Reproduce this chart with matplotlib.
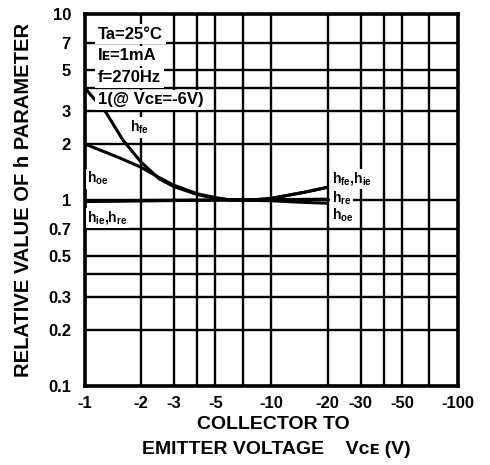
# -*- coding: utf-8 -*-
"""
Relative value of h parameters vs collector to emitter voltage.
Log-log chart, normalised to 1 at VCE = -6V.
"""
import matplotlib

matplotlib.use("Agg")
import matplotlib.pyplot as plt

# grid / tick values (magnitude of VCE, the axis is labelled negative)
x_grid = [1, 2, 3, 4, 5, 7, 10, 20, 30, 40, 50, 70, 100]
x_labels = ["-1", "-2", "-3", "", "-5", "", "-10", "-20", "-30", "", "-50", "", "-100"]
y_grid = [0.1, 0.2, 0.3, 0.4, 0.5, 0.7, 1, 2, 3, 4, 5, 7, 10]
y_labels = ["0.1", "0.2", "0.3", "", "0.5", "0.7", "1", "2", "3", "", "5", "7", "10"]

# curves
vce_hfe = [1, 1.3, 1.6, 2, 2.5, 3, 4, 5, 6, 8, 10, 15, 20]
hfe = [4.0, 2.95, 2.1, 1.6, 1.3, 1.18, 1.07, 1.02, 1.0, 1.0, 1.02, 1.1, 1.17]
vce_hoe = [1, 1.5, 2, 2.5, 3, 4, 5, 6, 10, 15, 20]
hoe = [2.0, 1.7, 1.5, 1.32, 1.2, 1.08, 1.03, 1.0, 0.99, 0.97, 0.96]
vce_hie = [1, 6, 8, 10, 15, 20]
hie = [0.99, 1.0, 1.0, 1.02, 1.1, 1.17]
vce_hre = [1, 6, 20]
hre = [0.98, 1.0, 1.01]

conditions = ["Ta=25\u00b0C", "I\u1d07=1mA", "f=270Hz", "1(@ V\u1d04\u1d07=-6V)"]

FONT = ["Liberation Sans", "DejaVu Sans"]
plt.rcParams["font.family"] = FONT
plt.rcParams["font.weight"] = "bold"
plt.rcParams["mathtext.fontset"] = "custom"
plt.rcParams["mathtext.rm"] = "Liberation Sans:bold"
plt.rcParams["mathtext.it"] = "Liberation Sans:bold"
plt.rcParams["mathtext.bf"] = "Liberation Sans:bold"


def label(ax, x, y, s, ha="left"):
    ax.text(x, y, s, fontsize=10, fontweight="bold", ha=ha, va="center",
            bbox=dict(facecolor="white", edgecolor="none", pad=1), zorder=4)


def main() -> None:
    fig = plt.figure(figsize=(4.9, 4.65), dpi=100)
    ax = fig.add_axes([0.173, 0.170, 0.762, 0.800])
    ax.set_xscale("log")
    ax.set_yscale("log")
    ax.set_xlim(1, 100)
    ax.set_ylim(0.1, 10)

    ax.set_xticks(x_grid, labels=x_labels)
    ax.set_yticks(y_grid, labels=y_labels)
    ax.minorticks_off()
    ax.tick_params(length=0, labelsize=12, pad=7)
    ax.tick_params(axis="y", pad=10)
    for t in ax.get_xticklabels() + ax.get_yticklabels():
        t.set_fontweight("bold")
    ax.grid(True, color="black", linewidth=1.7, zorder=1)
    ax.set_axisbelow(True)
    for sp in ax.spines.values():
        sp.set_linewidth(2.6)

    for v, h in [(vce_hfe, hfe), (vce_hoe, hoe), (vce_hie, hie), (vce_hre, hre)]:
        ax.plot(v, h, color="black", linewidth=2.2, zorder=3, solid_capstyle="butt")

    # condition block, each line blanks the grid behind it
    for i, s in enumerate(conditions):
        ax.text(0.035, 0.946 - i * 0.059, s, transform=ax.transAxes, fontsize=12,
                fontweight="bold", va="center", ha="left", family=FONT,
                bbox=dict(facecolor="white", edgecolor="none", pad=2), zorder=4)

    # curve labels
    label(ax, 1.75, 2.45, r"h$_{\mathregular{fe}}$")
    label(ax, 1.03, 1.3, r"h$_{\mathregular{oe}}$")
    label(ax, 1.03, 0.8, r"h$_{\mathregular{ie}}$,h$_{\mathregular{re}}$")
    label(ax, 21, 1.3, r"h$_{\mathregular{fe}}$,h$_{\mathregular{ie}}$")
    label(ax, 21, 1.02, r"h$_{\mathregular{re}}$")
    label(ax, 21, 0.83, r"h$_{\mathregular{oe}}$")

    ax.set_ylabel("RELATIVE VALUE OF h PARAMETER", fontsize=14.5, fontweight="bold", labelpad=11)
    fig.text(0.557, 0.088, "COLLECTOR TO", fontsize=14, fontweight="bold", ha="center", va="center")
    fig.text(0.563, 0.034, "EMITTER VOLTAGE    V\u1d04\u1d07 (V)", fontsize=14, fontweight="bold",
             ha="center", va="center")

    fig.savefig("out.png", dpi=100)


if __name__ == "__main__":
    main()
